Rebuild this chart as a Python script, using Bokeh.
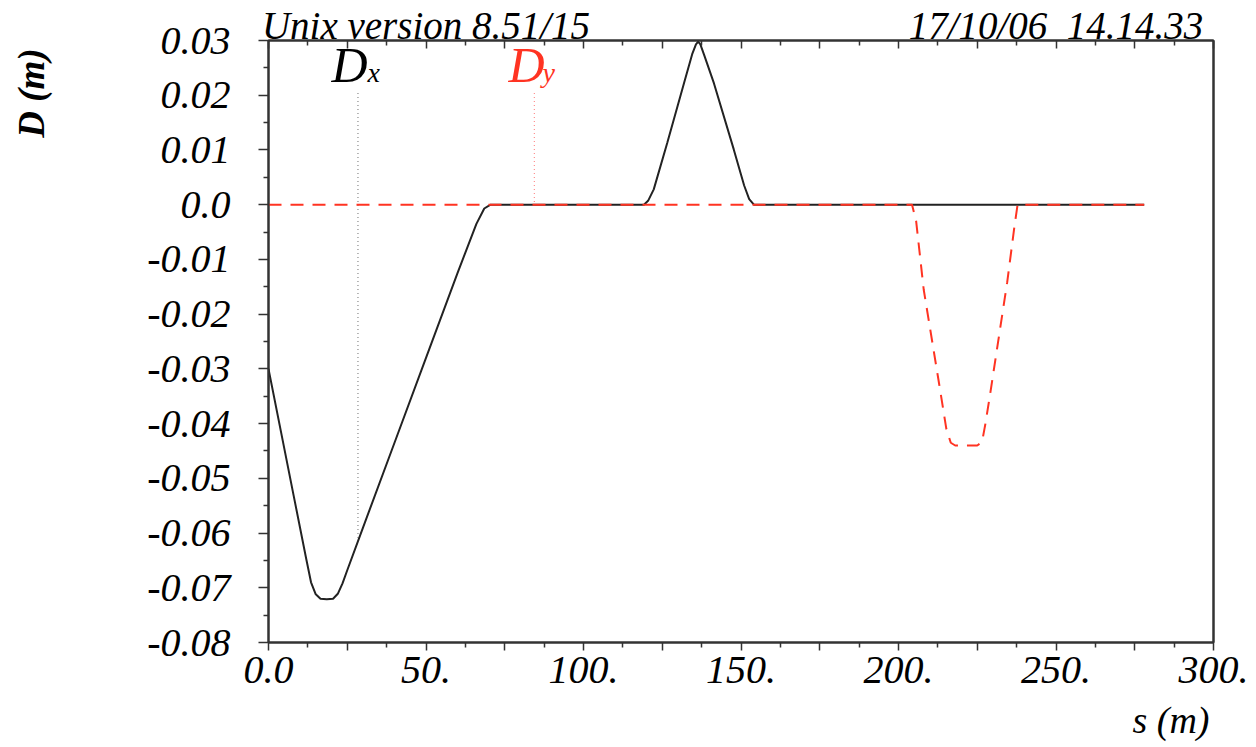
from bokeh.plotting import figure
from bokeh.models import Range1d, LinearAxis, FixedTicker, Label
from bokeh.embed import file_html
from bokeh.resources import INLINE

# ---- data ----
s_dx = [0, 4, 8, 12, 13.5, 15, 16.5, 18.5, 20.5, 22, 23.5, 25, 30, 40, 50, 60, 66, 68.5, 70.5,
        119.2, 120.5, 122.3, 126.6, 131.9, 134.5, 135.7, 136.4, 137.1, 138.4, 141.4, 147.7,
        151, 152.6, 154.1, 278]
d_dx = [-0.030, -0.0416, -0.0532, -0.0648, -0.0690, -0.0712, -0.0720, -0.0721, -0.0720, -0.0711,
        -0.0692, -0.0668, -0.0590, -0.0435, -0.0280, -0.0125, -0.0035, -0.0007, 0.0,
        0.0, 0.0007, 0.0028, 0.0113, 0.0222, 0.0275, 0.0293, 0.0298, 0.0293, 0.0272, 0.0222, 0.0101,
        0.0035, 0.0010, 0.0, 0.0]

s_dy = [0, 204.3, 205.6, 208, 212.8, 215.2, 216.6, 218, 225, 226.5, 227.6, 229.2, 234.5, 236.8, 237.8, 278]
d_dy = [0, 0, -0.0030, -0.0155, -0.0324, -0.0410, -0.0435, -0.0440, -0.0440, -0.0434, -0.0400,
        -0.0342, -0.0142, -0.0040, 0, 0]

x_ticks = [0, 25, 50, 75, 100, 125, 150, 175, 200, 225, 250, 275, 300]
x_minor = [12.5, 37.5, 62.5, 87.5, 112.5, 137.5, 162.5, 187.5, 212.5, 237.5, 262.5, 287.5]
x_labels = ["0.0", "", "50.", "", "100.", "", "150.", "", "200.", "", "250.", "", "300."]

y_ticks = [-0.08, -0.07, -0.06, -0.05, -0.04, -0.03, -0.02, -0.01, 0.0, 0.01, 0.02, 0.03]
y_minor = [-0.075, -0.065, -0.055, -0.045, -0.035, -0.025, -0.015, -0.005, 0.005, 0.015, 0.025]
y_labels = ["-0.08", "-0.07", "-0.06", "-0.05", "-0.04", "-0.03", "-0.02", "-0.01", "0.0",
            "0.01", "0.02", "0.03"]

marker_dx_s = 28.4
marker_dx_top = 0.0204
marker_dx_bottom = -0.061
marker_dy_s = 84.4
marker_dy_top = 0.0204
marker_dy_bottom = 0.0

header_left = "Unix version 8.51/15"
header_right = "17/10/06\u00a0 14.14.33"
# header texts sit on the top frame edge, centred over these s values
header_left_at = 50
header_right_at = 250

x_title = "s (m)"
x_title_at = 286.5      # centre of the x title along s
y_title = "D (m)"
y_title_at = 0.0204     # centre of the y title along D

FONT = "Liberation Serif"
AX = "#333333"
RED = "#ff3322"

p = figure(width=1256, height=747, output_backend="svg", toolbar_location=None,
           x_range=Range1d(0, 300), y_range=Range1d(-0.08, 0.03),
           x_axis_location=None, y_axis_location=None,
           min_border_left=268, min_border_right=43, min_border_top=37, min_border_bottom=105)
p.xgrid.visible = False
p.ygrid.visible = False
p.outline_line_color = AX
p.outline_line_width = 2
p.background_fill_color = "white"
p.border_fill_color = "white"

def style_axis(ax):
    ax.axis_line_color = AX
    ax.axis_line_width = 2
    ax.major_tick_line_color = AX
    ax.minor_tick_line_color = AX
    ax.major_tick_line_width = 1.5
    ax.minor_tick_line_width = 1.5
    ax.major_label_text_font = FONT
    ax.major_label_text_font_style = "italic"
    ax.major_label_text_font_size = "40px"
    ax.major_label_text_color = "black"

def title_axis(ax, font_size, style):
    # an axis that only carries a title text: no line, no ticks
    ax.axis_line_color = None
    ax.major_tick_line_color = None
    ax.minor_tick_line_color = None
    ax.major_tick_in = 0
    ax.major_tick_out = 0
    ax.minor_tick_in = 0
    ax.minor_tick_out = 0
    ax.major_label_text_font = FONT
    ax.major_label_text_font_style = style
    ax.major_label_text_font_size = font_size
    ax.major_label_text_color = "black"

# bottom axis
xb = LinearAxis(ticker=FixedTicker(ticks=x_ticks, minor_ticks=x_minor))
style_axis(xb)
xb.major_label_overrides = {t: l for t, l in zip(x_ticks, x_labels)}
xb.major_tick_in = 0
xb.major_tick_out = 8
xb.minor_tick_in = 0
xb.minor_tick_out = 5
xb.major_label_standoff = 6
p.add_layout(xb, "below")

# x title, below the bottom axis
xtt = LinearAxis(ticker=FixedTicker(ticks=[x_title_at], minor_ticks=[]))
title_axis(xtt, "38px", "italic")
xtt.major_label_overrides = {x_title_at: x_title}
xtt.major_label_standoff = 13
p.add_layout(xtt, "below")

# top axis (ticks inside) carrying the header texts
top_labels = {t: "" for t in x_ticks}
top_labels[header_left_at] = header_left
top_labels[header_right_at] = header_right
xt = LinearAxis(ticker=FixedTicker(ticks=x_ticks, minor_ticks=x_minor))
style_axis(xt)
xt.major_label_overrides = top_labels
xt.major_label_text_font_size = "39px"
xt.major_tick_in = 8
xt.major_tick_out = 0
xt.minor_tick_in = 5
xt.minor_tick_out = 0
xt.major_label_standoff = -6
p.add_layout(xt, "above")

# left axis
yl = LinearAxis(ticker=FixedTicker(ticks=y_ticks, minor_ticks=y_minor))
style_axis(yl)
yl.major_label_overrides = {t: l for t, l in zip(y_ticks, y_labels)}
yl.major_tick_in = 0
yl.major_tick_out = 10
yl.minor_tick_in = 0
yl.minor_tick_out = 5
yl.major_label_standoff = 28
p.add_layout(yl, "left")

# y title, left of the left axis
ytt = LinearAxis(ticker=FixedTicker(ticks=[y_title_at], minor_ticks=[]))
title_axis(ytt, "37px", "bold italic")
ytt.major_label_overrides = {y_title_at: y_title}
ytt.major_label_orientation = "vertical"
ytt.major_label_standoff = 92
p.add_layout(ytt, "left")

# right frame edge
yr = LinearAxis(ticker=FixedTicker(ticks=[], minor_ticks=[]))
style_axis(yr)
yr.major_tick_in = 0
yr.major_tick_out = 0
yr.minor_tick_in = 0
yr.minor_tick_out = 0
yr.major_label_text_alpha = 0
p.add_layout(yr, "right")

# marker dotted lines
p.segment(x0=[marker_dx_s], y0=[marker_dx_top], x1=[marker_dx_s], y1=[marker_dx_bottom],
          line_color="#888888", line_width=1.2, line_dash="1 3")
p.segment(x0=[marker_dy_s], y0=[marker_dy_top], x1=[marker_dy_s], y1=[marker_dy_bottom],
          line_color="#ff8f8f", line_width=1.2, line_dash="1 3")

# curves
p.line(s_dx, d_dx, line_color="#222222", line_width=2)
p.line(s_dy, d_dy, line_color=RED, line_width=2, line_dash="13 9")

def lab(x, y, text, size, color="black"):
    p.add_layout(Label(x=x, y=y, text=text, text_font=FONT, text_font_style="italic",
                       text_font_size=size, text_color=color, text_align="left",
                       text_baseline="middle"))

lab(20.0, 0.02560, "D", "50px")
lab(31.4, 0.02420, "x", "28px")
lab(76.2, 0.02560, "D", "50px", color=RED)
lab(87.0, 0.02420, "y", "28px", color=RED)

open("out.html", "w").write(file_html(p, INLINE))
